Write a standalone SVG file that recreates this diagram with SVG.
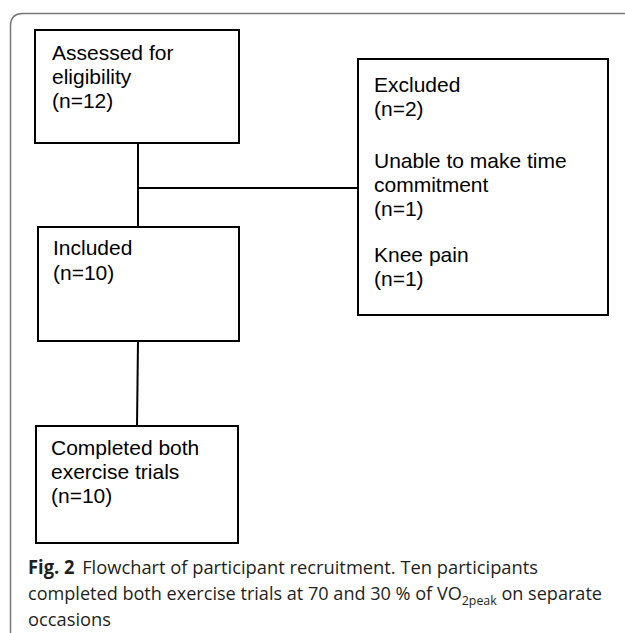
<svg xmlns="http://www.w3.org/2000/svg" width="625" height="633" viewBox="0 0 625 633">
<style>
.box{fill:#fff;stroke:#000;stroke-width:2}
.t{font-family:"Liberation Sans",Arial,sans-serif;font-size:21px;fill:#000}
.cap{font-family:"Open Sans","Noto Sans",sans-serif;font-size:19px;fill:#231f20}
.conn{stroke:#000;stroke-width:2;fill:none}
</style>
<rect width="625" height="633" fill="#fff"/>
<path d="M10.5,640 V26 Q10.5,13.5 23,13.5 H630" fill="none" stroke="#777" stroke-width="1.5"/>
<g id="connectors">
<path class="conn" d="M138,143 V227"/>
<path class="conn" d="M138,188 H358"/>
<path class="conn" d="M138,341 L137,426"/>
</g>
<g id="assessed">
<rect class="box" x="35" y="30" width="204" height="113"/>
<text class="t" x="52" y="60">Assessed for</text>
<text class="t" x="52" y="84">eligibility</text>
<text class="t" x="52" y="108">(n=12)</text>
</g>
<g id="excluded">
<rect class="box" x="358" y="59" width="250" height="256"/>
<text class="t" x="374" y="92">Excluded</text>
<text class="t" x="374" y="116">(n=2)</text>
<text class="t" x="374" y="168">Unable to make time</text>
<text class="t" x="374" y="192">commitment</text>
<text class="t" x="374" y="216">(n=1)</text>
<text class="t" x="374" y="262">Knee pain</text>
<text class="t" x="374" y="286">(n=1)</text>
</g>
<g id="included">
<rect class="box" x="38" y="227" width="201" height="114"/>
<text class="t" x="53" y="255">Included</text>
<text class="t" x="53" y="280">(n=10)</text>
</g>
<g id="completed">
<rect class="box" x="36" y="426" width="202" height="117"/>
<text class="t" x="51" y="455">Completed both</text>
<text class="t" x="51" y="479">exercise trials</text>
<text class="t" x="51" y="503">(n=10)</text>
</g>
<g id="caption">
<text class="cap" x="28" y="574" textLength="510" lengthAdjust="spacingAndGlyphs"><tspan font-weight="bold">Fig. 2</tspan><tspan dx="8">Flowchart of participant recruitment. Ten participants</tspan></text>
<text class="cap" x="28" y="600" textLength="574" lengthAdjust="spacingAndGlyphs">completed both exercise trials at 70 and 30 % of VO<tspan font-size="13" dy="5">2peak</tspan><tspan dy="-5"> on separate</tspan></text>
<text class="cap" x="28" y="626" textLength="83" lengthAdjust="spacingAndGlyphs">occasions</text>
</g>
</svg>
